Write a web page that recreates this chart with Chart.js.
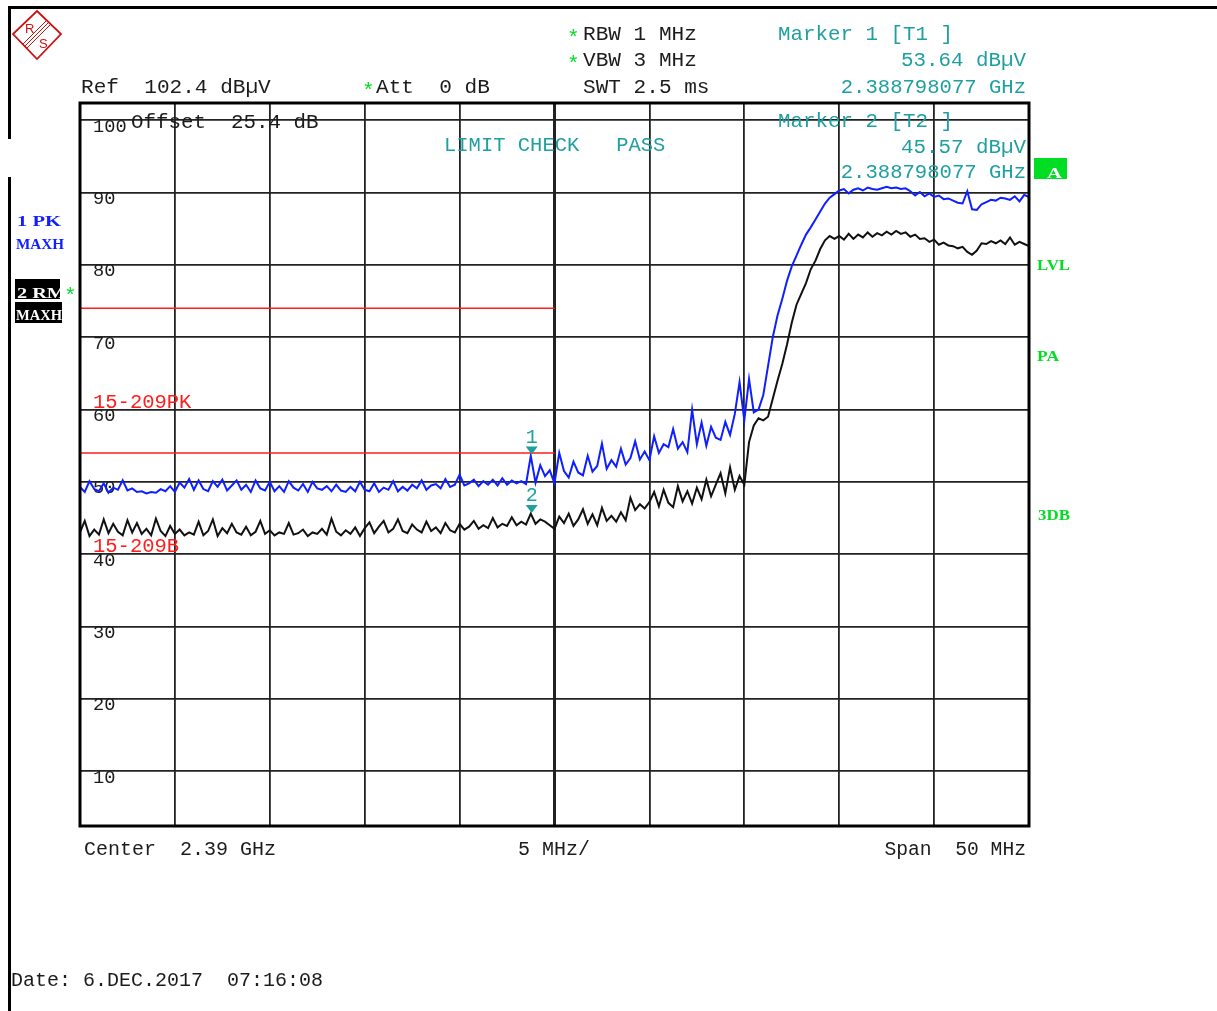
<!DOCTYPE html>
<html>
<head>
<meta charset="utf-8">
<script src="https://cdn.jsdelivr.net/npm/chart.js@4.4.0/dist/chart.umd.min.js"></script>
<style>
  html, body { margin: 0; padding: 0; background: #fff; }
  #wrap { width: 1217px; height: 1011px; position: relative; }
</style>
</head>
<body>
<div id="wrap"><canvas id="spec" width="1217" height="1011"></canvas></div>
<script>
// Sweep settings: 2365 .. 2415 MHz, one trace point every 0.25 MHz
const startMHz = 2365;
const stepMHz = 0.25;
const xTicks = [2365, 2370, 2375, 2380, 2385, 2390, 2395, 2400, 2405, 2410, 2415];
const yTicks = [10, 20, 30, 40, 50, 60, 70, 80, 90, 100];

// Trace 1: PK MAXH (dBuV)
const trace1Pk = [
  49.3, 48.6, 50.1, 49.0, 48.7, 49.8, 48.5, 49.2, 48.9, 50.2, 48.8, 49.1, 48.6, 48.7, 48.4, 48.6, 48.5, 49.0, 48.7, 49.4,
  48.6, 49.9, 49.2, 50.4, 48.9, 50.2, 49.0, 48.7, 50.1, 49.3, 50.3, 48.8, 49.5, 50.2, 48.9, 49.6, 48.6, 50.2, 49.1, 48.8,
  50.0, 48.7, 49.4, 48.6, 50.1, 49.2, 48.8, 49.7, 48.6, 50.0, 49.1, 48.9, 49.4, 48.7, 49.6, 48.8, 48.6, 49.3, 48.7, 50.0,
  48.9, 48.7, 49.8, 48.6, 49.2, 48.9, 50.1, 48.7, 49.3, 48.8, 49.6, 49.1, 50.2, 48.9, 49.5, 49.7, 49.1, 50.4, 49.3, 49.6,
  51.0, 49.5, 49.8, 50.3, 49.4, 50.1, 49.6, 50.3, 49.5, 50.5, 49.6, 50.2, 49.8, 50.1, 49.7, 53.6, 49.9, 52.3, 50.8, 51.6,
  49.8, 54.0, 51.5, 50.6, 52.8, 51.3, 50.9, 53.6, 51.4, 52.2, 55.3, 51.8, 53.0, 52.1, 54.6, 52.4, 53.3, 55.6, 53.1, 54.2,
  53.0, 56.3, 54.0, 55.2, 54.8, 57.3, 54.6, 55.5, 54.1, 60.0, 55.2, 58.2, 55.0, 57.6, 56.1, 55.8, 58.3, 56.5, 59.4, 63.8,
  58.5, 64.2, 59.6, 60.0, 62.0, 66.0, 70.0, 73.0, 75.3, 77.8, 79.8, 81.3, 82.8, 84.2, 85.2, 86.3, 87.4, 88.5, 89.3, 89.8,
  90.3, 90.5, 89.9, 90.4, 90.6, 90.3, 90.7, 90.5, 90.4, 90.6, 90.8, 90.6, 90.7, 90.5, 90.6, 90.2, 89.6, 90.1, 89.5, 89.9,
  89.4, 89.6, 89.1, 89.2, 88.9, 88.6, 88.5, 90.2, 87.7, 87.6, 88.4, 88.7, 89.0, 88.9, 89.3, 89.2, 89.0, 89.5, 88.8, 89.7, 89.4
];

// Trace 2: RM MAXH (dBuV)
const trace2Rm = [
  43.0, 44.6, 42.5, 43.4, 42.7, 44.8, 42.9, 44.2, 43.1, 42.6, 44.7, 43.0, 44.3, 42.8, 43.5, 42.6, 44.9, 43.2, 42.5, 43.9,
  42.8, 43.4, 42.6, 43.0, 42.7, 44.5, 42.6, 43.2, 44.8, 42.5, 43.6, 42.9, 44.2, 43.0, 42.7, 43.8, 42.6, 43.1, 44.6, 42.8,
  43.3, 42.6, 43.0, 42.8, 44.3, 42.7, 42.9, 43.4, 42.5, 43.0, 42.8, 43.5, 42.7, 44.9, 43.1, 42.6, 43.3, 42.8, 43.7, 42.5,
  43.6, 44.4, 42.9, 43.8, 44.6, 43.0, 43.5, 44.8, 43.2, 42.9, 44.1, 43.4, 43.0, 44.5, 43.2, 43.7, 42.9, 44.3, 43.3, 43.0,
  44.2, 43.4, 43.8, 44.6, 43.5, 44.0, 43.6, 45.0, 43.7, 44.2, 43.9, 45.1, 44.0, 44.5, 44.1, 45.6, 44.2, 44.8, 44.5, 44.0,
  43.5, 45.2, 44.3, 45.6, 43.9, 44.8, 46.2, 44.2, 45.5, 44.0, 46.4, 44.6, 45.3, 44.5, 45.8, 44.7, 47.8, 46.1, 46.9, 46.3,
  47.2, 48.6, 46.6, 48.9, 47.1, 46.5, 49.4, 47.3, 48.7, 47.0, 49.2, 47.6, 50.3, 48.0, 49.6, 51.2, 48.4, 52.0, 48.9, 50.8,
  49.6, 55.5, 57.8, 58.8, 58.5, 59.0, 61.5, 64.0, 66.3, 69.0, 72.0, 74.5, 76.0, 77.5, 79.4, 80.6, 82.2, 83.4, 84.0, 83.6,
  84.0, 83.5, 84.3, 83.6, 84.2, 83.8, 84.5, 83.9, 84.4, 84.1, 84.6, 84.2, 84.7, 84.3, 84.5, 83.9, 84.2, 83.6, 83.7, 83.2,
  83.5, 82.8, 83.1, 82.7, 82.6, 82.3, 82.5, 81.8, 81.4, 82.0, 83.0, 82.9, 83.3, 83.0, 83.4, 82.9, 83.8, 82.8, 83.2, 82.9, 82.6
];

// Limit lines 15-209PK / 15-209B
const limitFreq = [2365, 2390];
const limitPk = [74, 74];
const limitAv = [54, 54];

// Markers
const markerFreq = [2388.798077, 2388.798077];
const markerLevel = [53.64, 45.57];
const markerName = ["1", "2"];

const TEAL = "#1f9f9f";
const DARK = "#1c1c1c";
const RED = "#ff1c1c";
const GREEN = "#00dd22";
const BLUE = "#0f1fff";

function toPoints(arr) {
    return arr.map((v, i) => ({ x: startMHz + i * stepMHz, y: v }));
}

// draw monospace text with a fixed cell width
function mono(ctx, s, x, base, size, cw, color, align) {
    ctx.save();
    ctx.font = size + 'px "Liberation Mono", monospace';
    const w = ctx.measureText(s).width;
    const target = cw * s.length;
    const x0 = align === "right" ? x - target : x;
    ctx.translate(x0, base);
    ctx.scale(target / w, 1);
    ctx.fillStyle = color;
    ctx.textBaseline = "alphabetic";
    ctx.textAlign = "left";
    ctx.fillText(s, 0, 0);
    ctx.restore();
}

// draw bold text squeezed into [x0, x1]
function fitBold(ctx, s, x0, x1, base, size, color) {
    ctx.save();
    ctx.font = 'bold ' + size + 'px "Liberation Serif", serif';
    const w = ctx.measureText(s).width;
    ctx.translate(x0, base);
    ctx.scale((x1 - x0) / w, 1);
    ctx.fillStyle = color;
    ctx.fillText(s, 0, 0);
    ctx.restore();
}

const decor = {
    id: "decor",
    beforeDraw(chart) {
        const ctx = chart.ctx;
        ctx.save();
        ctx.fillStyle = "#fff";
        ctx.fillRect(0, 0, chart.width, chart.height);
        // outer frame pieces
        ctx.fillStyle = "#000";
        ctx.fillRect(8, 6, 1209, 3);
        ctx.fillRect(8, 6, 3, 133);
        ctx.fillRect(8, 177, 3, 834);
        // R&S logo
        ctx.strokeStyle = "#cc1111";
        ctx.lineWidth = 1.8;
        ctx.beginPath();
        ctx.moveTo(37, 11); ctx.lineTo(61, 34); ctx.lineTo(37, 59); ctx.lineTo(13, 34); ctx.closePath();
        ctx.stroke();
        ctx.lineWidth = 1;
        for (let k = -1; k <= 1; k++) {
            const o = k * 2;
            ctx.beginPath();
            ctx.moveTo(49 + o, 22 + o); ctx.lineTo(25 + o, 46 + o);
            ctx.stroke();
        }
        ctx.fillStyle = "#cc1111";
        ctx.font = '13px "Liberation Sans", sans-serif';
        ctx.fillText("R", 25, 33);
        ctx.fillText("S", 39, 48);
        ctx.restore();
    },
    beforeDatasetsDraw(chart) {
        const ctx = chart.ctx;
        const y = chart.scales.y;
        // header texts
        mono(ctx, "Ref  102.4 dBµV", 81, 93, 21, 12.65, DARK);
        mono(ctx, "*", 362, 97, 21, 12.6, GREEN);
        mono(ctx, "Att  0 dB", 376, 93, 21, 12.65, DARK);
        mono(ctx, "*", 567, 44, 21, 12.6, GREEN);
        mono(ctx, "RBW 1 MHz", 583, 40, 21, 12.65, DARK);
        mono(ctx, "*", 567, 70, 21, 12.6, GREEN);
        mono(ctx, "VBW 3 MHz", 583, 66, 21, 12.65, DARK);
        mono(ctx, "SWT 2.5 ms", 583, 93, 21, 12.65, DARK);
        mono(ctx, "Marker 1 [T1 ]", 778, 40, 21, 12.5, TEAL);
        mono(ctx, "53.64 dBµV", 1026, 66, 21, 12.5, TEAL, "right");
        mono(ctx, "2.388798077 GHz", 1026, 93, 21, 12.35, TEAL, "right");
        mono(ctx, "Marker 2 [T2 ]", 778, 127, 21, 12.5, TEAL);
        mono(ctx, "45.57 dBµV", 1026, 153, 21, 12.5, TEAL, "right");
        mono(ctx, "2.388798077 GHz", 1026, 178, 21, 12.35, TEAL, "right");
        mono(ctx, "Offset  25.4 dB", 131, 128, 21, 12.5, DARK);
        mono(ctx, "LIMIT CHECK   PASS", 444, 151, 21, 12.3, TEAL);
        // level labels inside the grid
        yTicks.forEach(v => {
            mono(ctx, String(v), 93, y.getPixelForValue(v) + 11.5, 19, 11.2, DARK);
        });
        mono(ctx, "15-209PK", 93, 408, 20, 12.3, RED);
        mono(ctx, "15-209B", 93, 552, 20, 12.3, RED);
        // footer
        mono(ctx, "Center  2.39 GHz", 84, 855, 20, 12, DARK);
        mono(ctx, "5 MHz/", 518, 855, 20, 12, DARK);
        mono(ctx, "Span  50 MHz", 1026, 855, 20, 11.8, DARK, "right");
        mono(ctx, "Date: 6.DEC.2017  07:16:08", 11, 986, 20, 12, DARK);
        // trace info on the left
        fitBold(ctx, "1 PK", 17, 61, 226, 15, BLUE);
        fitBold(ctx, "MAXH", 16, 64, 249, 15, BLUE);
        ctx.save();
        ctx.fillStyle = "#000";
        ctx.fillRect(15, 279, 45, 20);
        ctx.fillRect(15, 302, 47, 21);
        ctx.beginPath(); ctx.rect(15, 279, 45, 20); ctx.clip();
        fitBold(ctx, "2 RM", 17, 66, 298, 15, "#fff");
        ctx.restore();
        fitBold(ctx, "MAXH", 16, 62, 320, 14, "#fff");
        mono(ctx, "*", 64, 302, 21, 12.6, GREEN);
        // right side status
        ctx.save();
        ctx.fillStyle = GREEN;
        ctx.fillRect(1034, 158, 33, 21);
        ctx.restore();
        fitBold(ctx, "A", 1047, 1062, 178, 14, "#fff");
        fitBold(ctx, "LVL", 1037, 1070, 270, 14, GREEN);
        fitBold(ctx, "PA", 1037, 1059, 361, 14, GREEN);
        fitBold(ctx, "3DB", 1038, 1070, 520, 14, GREEN);
    },
    afterDatasetsDraw(chart) {
        const ctx = chart.ctx;
        const x = chart.scales.x, y = chart.scales.y;
        ctx.save();
        markerFreq.forEach((f, i) => {
            const px = x.getPixelForValue(f);
            const py = y.getPixelForValue(markerLevel[i]) - 1;
            ctx.fillStyle = TEAL;
            ctx.beginPath();
            ctx.moveTo(px - 6, py - 8); ctx.lineTo(px + 6, py - 8); ctx.lineTo(px, py);
            ctx.closePath();
            ctx.fill();
            mono(ctx, markerName[i], px - 6, py - 12, 20, 12, TEAL);
        });
        ctx.restore();
    },
    afterDraw(chart) {
        const ctx = chart.ctx;
        const a = chart.chartArea;
        ctx.save();
        ctx.strokeStyle = "#000";
        ctx.lineWidth = 3;
        ctx.strokeRect(a.left, a.top, a.right - a.left, a.bottom - a.top);
        ctx.restore();
    }
};

new Chart(document.getElementById("spec"), {
    type: "line",
    data: {
        datasets: [
            { label: "15-209PK", data: limitFreq.map((f, i) => ({ x: f, y: limitPk[i] })), borderColor: RED, borderWidth: 1.5, pointRadius: 0 },
            { label: "15-209B", data: limitFreq.map((f, i) => ({ x: f, y: limitAv[i] })), borderColor: RED, borderWidth: 1.5, pointRadius: 0 },
            { label: "2 RM MAXH", data: toPoints(trace2Rm), borderColor: "#111", borderWidth: 2, pointRadius: 0 },
            { label: "1 PK MAXH", data: toPoints(trace1Pk), borderColor: BLUE, borderWidth: 2, pointRadius: 0 }
        ]
    },
    options: {
        responsive: false,
        animation: false,
        events: [],
        layout: { padding: { left: 80, top: 103, right: 188, bottom: 185 } },
        plugins: { legend: { display: false }, tooltip: { enabled: false } },
        scales: {
            x: {
                type: "linear",
                min: 2365,
                max: 2415,
                afterBuildTicks: s => { s.ticks = xTicks.map(v => ({ value: v })); },
                afterFit: s => { s.height = 0; },
                ticks: { display: false },
                border: { display: false },
                grid: {
                    drawTicks: false,
                    color: "#222",
                    lineWidth: c => (c.tick && c.tick.value === 2390 ? 3 : 1.8)
                }
            },
            y: {
                type: "linear",
                min: 2.4,
                max: 102.4,
                afterBuildTicks: s => { s.ticks = yTicks.map(v => ({ value: v })); },
                afterFit: s => { s.width = 0; },
                ticks: { display: false },
                border: { display: false },
                grid: { drawTicks: false, color: "#222", lineWidth: 1.8 }
            }
        }
    },
    plugins: [decor]
});
</script>
</body>
</html>
